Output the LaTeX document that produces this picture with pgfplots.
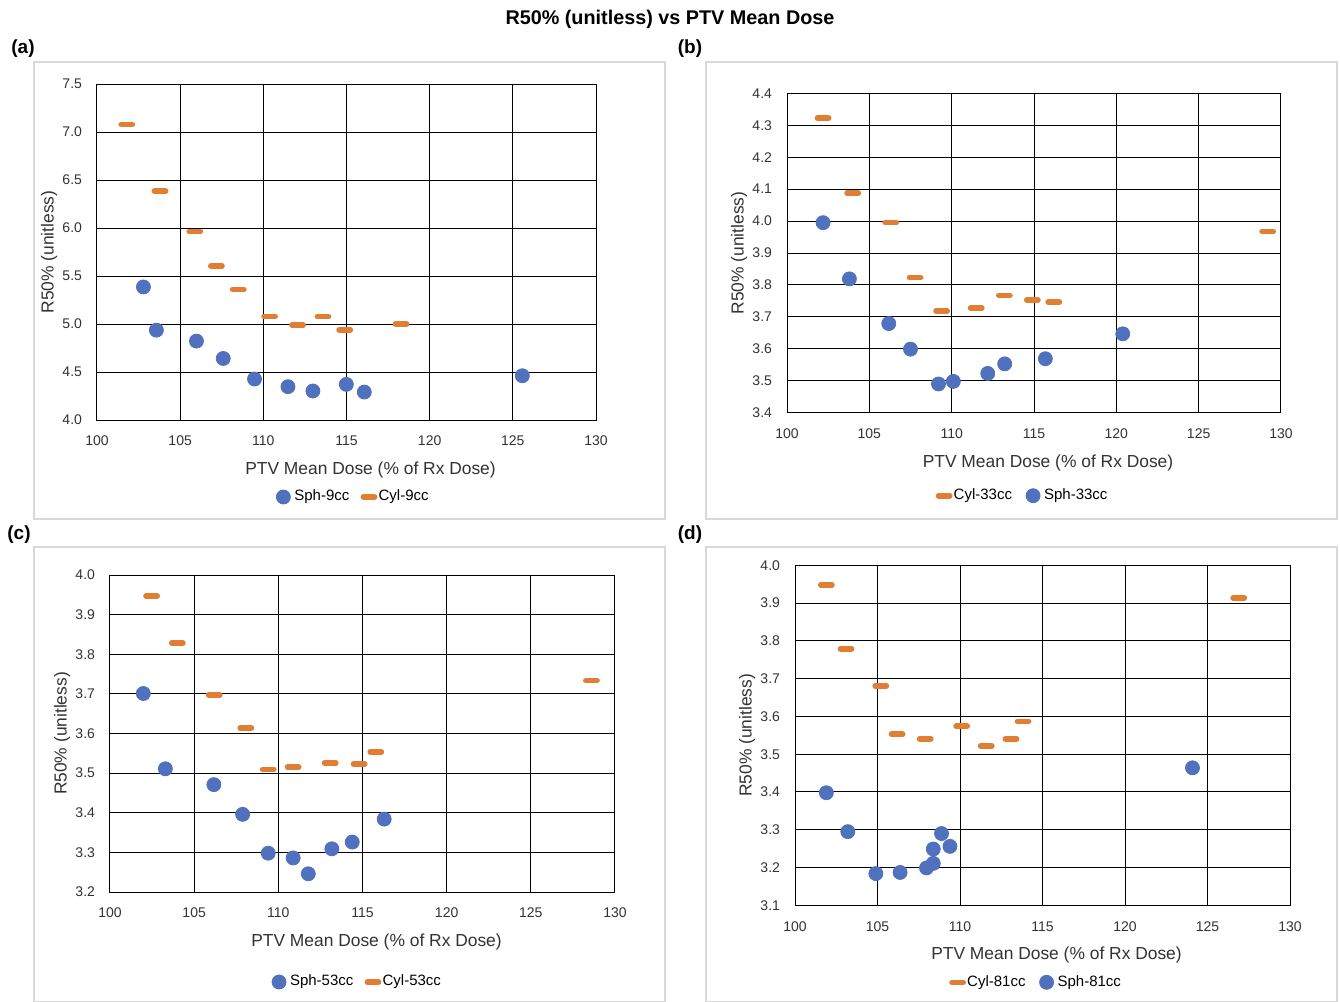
\documentclass[border=0pt]{standalone}
\usepackage{pgfplots}
\pgfplotsset{compat=1.18}
\usetikzlibrary{calc}
\usepackage{fontspec}
\setmainfont{Liberation Sans}
\definecolor{sphblue}{RGB}{80,114,190}
\definecolor{cylorange}{RGB}{224,126,52}
\definecolor{boxgray}{RGB}{217,217,217}

\pgfplotsset{
  panel/.style={
    scale only axis,
    anchor=south west,
    xmin=100, xmax=130,
    xtick={100,105,110,115,120,125,130},
    grid=major,
    major grid style={black, line width=0.5pt},
    axis line style={black, line width=0.5pt},
    major tick length=0pt,
    /pgf/number format/assume math mode=true,
    tick label style={font=\fontsize{7}{8}\selectfont, color=black!80},
    xticklabel style={yshift=-4.5pt},
    yticklabel style={xshift=-4pt, /pgf/number format/.cd, fixed, fixed zerofill, precision=1},
    xlabel={PTV Mean Dose (\% of Rx Dose)},
    ylabel={R50\% (unitless)},
    label style={font=\fontsize{8.7}{9.5}\selectfont, color=black!80},
    x label style={at={(axis description cs:0.5,0)}, anchor=center, yshift=-25pt, xshift=7pt},
    y label style={at={($(axis description cs:0,0.5)+(-24pt,0pt)$)}, anchor=center},
    legend columns=2,
    legend style={draw=none, fill=none, font=\fontsize{7.5}{8.5}\selectfont,
      at={(axis description cs:0.5,0)}, anchor=center,
      /tikz/every even column/.append style={column sep=5pt}},
  },
  sph/.style={only marks, mark=*, mark size=3.5pt, color=sphblue, mark options={draw=sphblue, fill=sphblue}},
  cyl/.style={only marks, mark=-, mark size=2.8pt, color=cylorange, mark options={line width=2.8pt, line cap=round, draw=cylorange}},
}

\begin{document}
\begin{tikzpicture}
\useasboundingbox (0,0) rectangle (670pt,-501pt);
\fill[white] (0,0) rectangle (670pt,-501pt);

% chart borders
\draw[boxgray, line width=0.6pt] (17pt,-31pt) rectangle (332.5pt,-259.5pt);
\draw[boxgray, line width=0.6pt] (353pt,-31pt) rectangle (668.5pt,-259.5pt);
\draw[boxgray, line width=0.6pt] (17pt,-273.5pt) rectangle (332.5pt,-500.6pt);
\draw[boxgray, line width=0.6pt] (353pt,-273.5pt) rectangle (668.5pt,-500.6pt);

% title and panel labels
\node[font=\bfseries\fontsize{9.9}{11}\selectfont] at (335pt,-9.5pt) {R50\% (unitless) vs PTV Mean Dose};
\node[font=\bfseries\fontsize{9.5}{10}\selectfont] at (11.5pt,-24.5pt) {(a)};
\node[font=\bfseries\fontsize{9.5}{10}\selectfont] at (345pt,-24.5pt) {(b)};
\node[font=\bfseries\fontsize{9.5}{10}\selectfont] at (9.5pt,-267.5pt) {(c)};
\node[font=\bfseries\fontsize{9.5}{10}\selectfont] at (345pt,-267.5pt) {(d)};

% (a)
\begin{axis}[panel, at={(48.5pt,-210pt)}, width=249.5pt, height=168pt,
  ymin=4.0, ymax=7.5, ytick={4.0,4.5,5.0,5.5,6.0,6.5,7.0,7.5},
  x label style={xshift=5pt},
  legend style={yshift=-38.5pt, xshift=4pt}]
\addplot[sph] coordinates {(102.79,5.386) (103.57,4.936) (105.98,4.822) (107.59,4.641) (109.47,4.427) (111.48,4.347) (112.98,4.302) (114.99,4.371) (116.07,4.291) (125.57,4.461)};
\addlegendentry{Sph-9cc}
\addplot[cyl] coordinates {(101.79,7.080) (103.79,6.384) (105.88,5.965) (107.18,5.605) (108.49,5.359) (110.38,5.078) (112.06,4.988) (113.59,5.078) (114.89,4.939) (118.28,4.998)};
\addlegendentry{Cyl-9cc}
\end{axis}

% (b)
\begin{axis}[panel, at={(393.5pt,-206.35pt)}, width=247pt, height=159.7pt,
  ymin=3.4, ymax=4.4, ytick={3.4,3.5,3.6,3.7,3.8,3.9,4.0,4.1,4.2,4.3,4.4},
  legend style={yshift=-41.5pt, xshift=-4.5pt}]
\addplot[cyl] coordinates {(102.19,4.322) (103.99,4.087) (106.30,3.995) (107.78,3.823) (109.39,3.719) (111.49,3.728) (113.20,3.767) (114.90,3.752) (116.20,3.746) (129.19,3.967)};
\addlegendentry{Cyl-33cc}
\addplot[sph] coordinates {(102.19,3.995) (103.79,3.819) (106.18,3.679) (107.50,3.599) (109.20,3.490) (110.10,3.498) (112.19,3.523) (113.22,3.553) (115.69,3.569) (120.39,3.647)};
\addlegendentry{Sph-33cc}
\end{axis}

% (c)
\begin{axis}[panel, at={(55pt,-446pt)}, width=252.5pt, height=158.5pt,
  ymin=3.2, ymax=4.0, ytick={3.2,3.3,3.4,3.5,3.6,3.7,3.8,3.9,4.0},
  legend style={yshift=-45pt, xshift=-2pt}]
\addplot[sph] coordinates {(101.98,3.701) (103.29,3.511) (106.17,3.471) (107.88,3.396) (109.40,3.298) (110.88,3.286) (111.78,3.246) (113.18,3.309) (114.39,3.326) (116.29,3.384)};
\addlegendentry{Sph-53cc}
\addplot[cyl] coordinates {(102.47,3.947) (104.00,3.828) (106.19,3.697) (108.07,3.614) (109.40,3.509) (110.88,3.515) (113.08,3.526) (114.80,3.523) (115.79,3.554) (128.60,3.734)};
\addlegendentry{Cyl-53cc}
\end{axis}

% (d)
\begin{axis}[panel, at={(397.5pt,-452.65pt)}, width=247.5pt, height=170pt,
  ymin=3.1, ymax=4.0, ytick={3.1,3.2,3.3,3.4,3.5,3.6,3.7,3.8,3.9,4.0},
  legend style={yshift=-38.5pt, xshift=-2pt}]
\addplot[cyl] coordinates {(101.90,3.948) (103.09,3.779) (105.20,3.681) (106.19,3.553) (107.89,3.541) (110.10,3.574) (111.59,3.522) (113.09,3.541) (113.82,3.587) (126.89,3.914)};
\addlegendentry{Cyl-81cc}
\addplot[sph] coordinates {(101.90,3.398) (103.20,3.295) (104.90,3.184) (106.37,3.187) (107.97,3.199) (108.38,3.211) (108.38,3.249) (108.88,3.290) (109.39,3.256) (124.09,3.464)};
\addlegendentry{Sph-81cc}
\end{axis}
\end{tikzpicture}
\end{document}
